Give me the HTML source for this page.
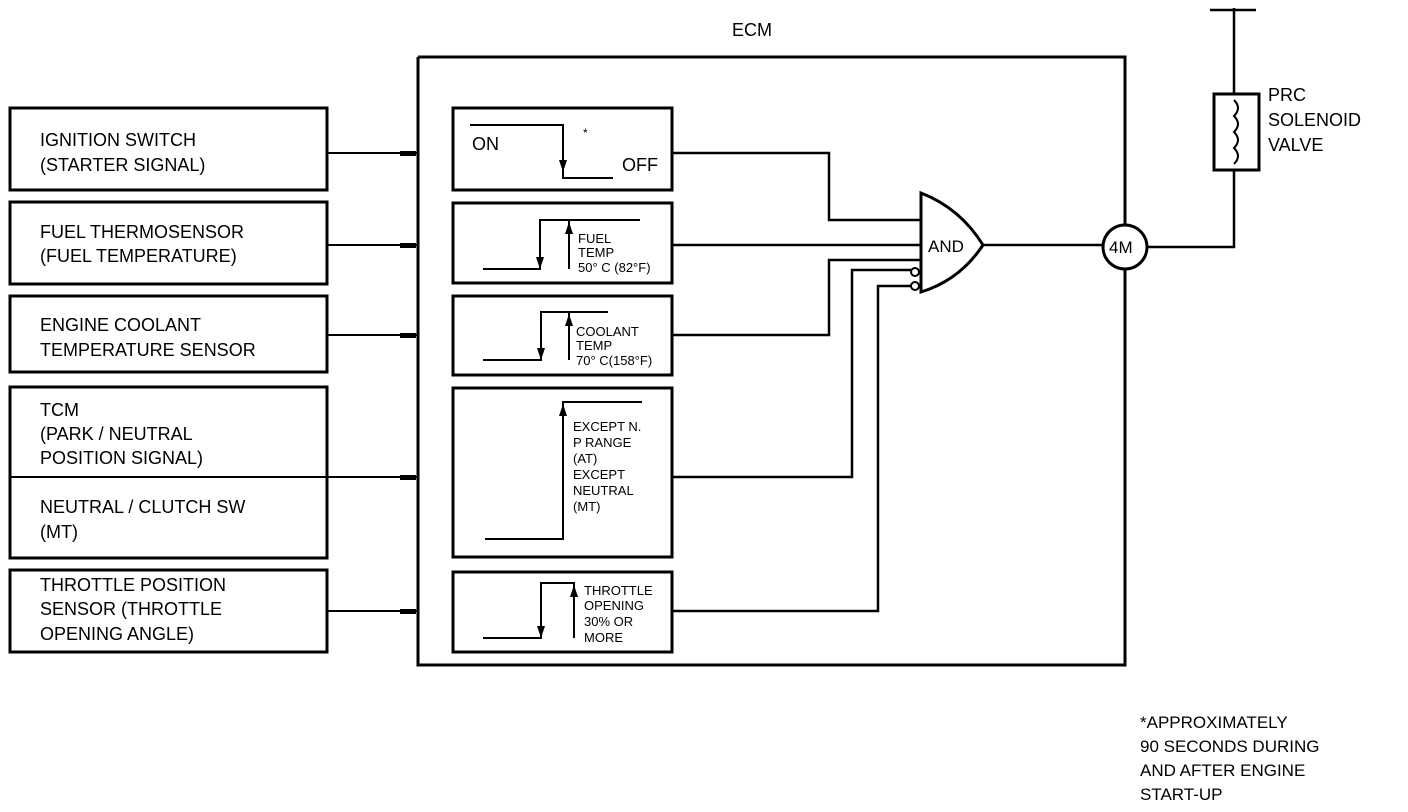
<!DOCTYPE html>
<html><head><style>
html,body{margin:0;padding:0;background:#fff;}
svg{display:block;}
text{font-family:"Liberation Sans",sans-serif;fill:#000;}
</style></head><body>
<svg width="1408" height="812" viewBox="0 0 1408 812" xmlns="http://www.w3.org/2000/svg">
<g fill="none" stroke="#000">
<g stroke-width="3">
<rect x="10" y="108" width="317" height="82"/>
<rect x="10" y="202" width="317" height="82"/>
<rect x="10" y="296" width="317" height="76"/>
<rect x="10" y="387" width="317" height="171"/>
<rect x="10" y="570" width="317" height="82"/>
</g>
<line x1="10" y1="477" x2="327" y2="477" stroke-width="2"/>
<path d="M418 57 H1125 V225 M1125 269 V665 H418 V57" stroke-width="3"/>
<g stroke-width="3">
<rect x="453" y="108" width="219" height="82"/>
<rect x="453" y="203" width="219" height="80"/>
<rect x="453" y="296" width="219" height="79"/>
<rect x="453" y="388" width="219" height="169"/>
<rect x="453" y="572" width="219" height="80"/>
</g>
<g stroke-width="2">
<line x1="327" y1="153" x2="418" y2="153"/>
<line x1="327" y1="245" x2="418" y2="245"/>
<line x1="327" y1="335" x2="418" y2="335"/>
<line x1="10" y1="477" x2="418" y2="477"/>
<line x1="327" y1="611" x2="418" y2="611"/>
</g>
<g stroke-width="2.5">
<path d="M672 153 H829 V220 H920"/>
<path d="M672 245 H920"/>
<path d="M672 335 H829 V260 H920"/>
<path d="M672 477 H852 V270 H911"/>
<path d="M672 611 H878 V286 H911"/>
<path d="M983 245 H1103"/>
<path d="M1147 247 H1234 V170 M1234 93 V8 M1210 10 H1256"/>
</g>
<path d="M921 193 V292 Q960 280 983 245 Q960 208 921 193 Z" stroke-width="3" fill="#fff"/>
<circle cx="915" cy="272" r="4" stroke-width="2"/>
<circle cx="915" cy="286" r="4" stroke-width="2"/>
<circle cx="1125" cy="247" r="22" stroke-width="3"/>
<rect x="1214" y="94" width="45" height="76" stroke-width="3"/>
<path d="M1234 100 q8 8 0 16 q8 8 0 16 q8 8 0 16 q8 8 0 16" stroke-width="2"/>
<g stroke-width="2">
<path d="M470 125 H563 V178 H613"/>
<path d="M483 269 H540 V220 H640"/>
<path d="M569 220 V269"/>
<path d="M483 360 H541 V312 H608"/>
<path d="M569 312 V360"/>
<path d="M485 539 H563 V402 H642"/>
<path d="M483 638 H541 V583 H574 V638"/>
</g>
</g>
<g fill="#000">
<polygon points="559,160 567,160 563,172"/>
<polygon points="536,257 544,257 540,269"/>
<polygon points="565,234 573,234 569,222"/>
<polygon points="537,348 545,348 541,360"/>
<polygon points="565,326 573,326 569,314"/>
<polygon points="559,416 567,416 563,404"/>
<polygon points="537,626 545,626 541,638"/>
<polygon points="570,597 578,597 574,585"/>
<rect x="400" y="151" width="16" height="5"/>
<rect x="400" y="243" width="16" height="5"/>
<rect x="400" y="333" width="16" height="5"/>
<rect x="400" y="475" width="16" height="5"/>
<rect x="400" y="609" width="16" height="5"/>
</g>
<g font-size="18">
<text x="732" y="36">ECM</text>
<text x="40" y="146">IGNITION SWITCH</text>
<text x="40" y="171">(STARTER SIGNAL)</text>
<text x="40" y="238">FUEL THERMOSENSOR</text>
<text x="40" y="262">(FUEL TEMPERATURE)</text>
<text x="40" y="331">ENGINE COOLANT</text>
<text x="40" y="356">TEMPERATURE SENSOR</text>
<text x="40" y="416">TCM</text>
<text x="40" y="440">(PARK / NEUTRAL</text>
<text x="40" y="464">POSITION SIGNAL)</text>
<text x="40" y="513">NEUTRAL / CLUTCH SW</text>
<text x="40" y="538">(MT)</text>
<text x="40" y="591">THROTTLE POSITION</text>
<text x="40" y="615">SENSOR (THROTTLE</text>
<text x="40" y="640">OPENING ANGLE)</text>
<text x="472" y="150">ON</text>
<text x="622" y="171">OFF</text>
<text x="1268" y="101">PRC</text>
<text x="1268" y="126">SOLENOID</text>
<text x="1268" y="151">VALVE</text>
<text x="928" y="252" font-size="17">AND</text>
<text x="1109" y="253" font-size="17">4M</text>
</g>
<text x="583" y="137" font-size="12">*</text>
<g font-size="13">
<text x="578" y="243">FUEL</text>
<text x="578" y="257">TEMP</text>
<text x="578" y="272">50° C (82°F)</text>
<text x="576" y="336">COOLANT</text>
<text x="576" y="350">TEMP</text>
<text x="576" y="365">70° C(158°F)</text>
<text x="573" y="431">EXCEPT N.</text>
<text x="573" y="447">P RANGE</text>
<text x="573" y="463">(AT)</text>
<text x="573" y="479">EXCEPT</text>
<text x="573" y="495">NEUTRAL</text>
<text x="573" y="511">(MT)</text>
<text x="584" y="595">THROTTLE</text>
<text x="584" y="610">OPENING</text>
<text x="584" y="626">30% OR</text>
<text x="584" y="642">MORE</text>
</g>
<g font-size="17">
<text x="1140" y="728">*APPROXIMATELY</text>
<text x="1140" y="752">90 SECONDS DURING</text>
<text x="1140" y="776">AND AFTER ENGINE</text>
<text x="1140" y="800">START-UP</text>
</g>
</svg>
</body></html>
